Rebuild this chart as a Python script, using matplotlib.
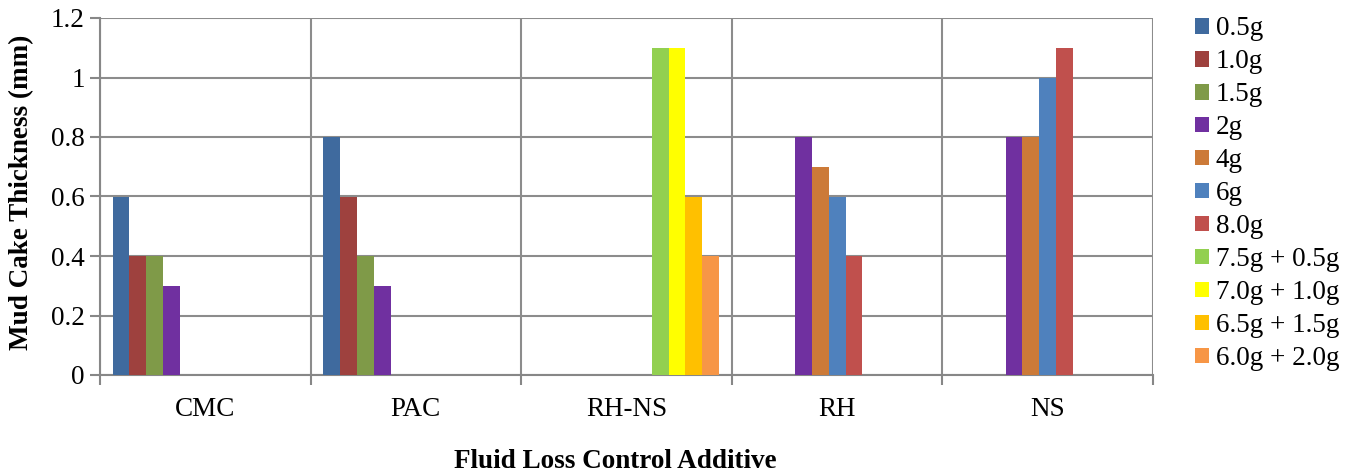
import numpy as np
import matplotlib
matplotlib.use("Agg")
import matplotlib.pyplot as plt

categories = ["CMC", "PAC", "RH-NS", "RH", "NS"]
series_names = ["0.5g", "1.0g", "1.5g", "2g", "4g", "6g", "8.0g",
                "7.5g + 0.5g", "7.0g + 1.0g", "6.5g + 1.5g", "6.0g + 2.0g"]
s_05g = [0.6, 0.8, 0, 0, 0]
s_10g = [0.4, 0.6, 0, 0, 0]
s_15g = [0.4, 0.4, 0, 0, 0]
s_2g = [0.3, 0.3, 0, 0.8, 0.8]
s_4g = [0, 0, 0, 0.7, 0.8]
s_6g = [0, 0, 0, 0.6, 1.0]
s_8g = [0, 0, 0, 0.4, 1.1]
s_75_05 = [0, 0, 1.1, 0, 0]
s_70_10 = [0, 0, 1.1, 0, 0]
s_65_15 = [0, 0, 0.6, 0, 0]
s_60_20 = [0, 0, 0.4, 0, 0]
series_values = [s_05g, s_10g, s_15g, s_2g, s_4g, s_6g, s_8g,
                 s_75_05, s_70_10, s_65_15, s_60_20]
colors = ["#3F6A9E", "#9E413E", "#7F9A48", "#7030A0", "#CC7A38", "#4F81BD",
          "#C0504D", "#92D050", "#FFFF00", "#FFC000", "#F79646"]

plt.rcParams['font.family'] = ['Liberation Serif', 'DejaVu Serif']
FS = 19.5

fig = plt.figure(figsize=(13.51, 4.74), dpi=100)
ax = fig.add_axes([100/1351, 1-375/474, (1153-100)/1351, (375-18)/474])

w = 0.08
margin = 0.06
x = np.arange(len(categories))
for j, (name, vals, c) in enumerate(zip(series_names, series_values, colors)):
    ax.bar(x + margin + j*w, vals, width=w, align='edge', color=c,
           label=name, zorder=3, linewidth=0)

ax.set_xlim(0, len(categories))
ax.set_ylim(0, 1.2)
ax.set_yticks(np.arange(0, 1.21, 0.2))
ax.set_yticklabels(["0", "0.2", "0.4", "0.6", "0.8", "1", "1.2"], fontsize=FS)
ax.set_xticks(np.arange(0, len(categories)+1))
ax.set_xticklabels([])
ax.set_xticks(x + 0.5, minor=True)
ax.set_xticklabels(categories, minor=True, fontsize=FS)
ax.tick_params(axis='x', which='minor', length=0, pad=16)
ax.tick_params(axis='x', which='major', length=7, width=1.5, color='#878787', direction='out')
ax.tick_params(axis='y', length=7, width=1.5, color='#878787', direction='out', pad=4)

ax.grid(True, which='major', axis='both', color='#8C8C8C', linewidth=1.5, zorder=0)
for s in ['top', 'right']:
    ax.spines[s].set_visible(False)
for s in ['left', 'bottom']:
    ax.spines[s].set_color('#878787')
    ax.spines[s].set_linewidth(1.5)

fig.text(22/1351, 1-192/474, "Mud Cake Thickness (mm)", fontsize=FS,
         fontweight='bold', ha='center', va='center', rotation=90)
fig.text(615/1351, 1-462/474, "Fluid Loss Control Additive", fontsize=FS,
         fontweight='bold', ha='center', va='center')

leg = ax.legend(loc='upper left', bbox_to_anchor=(1190/1351, 1-11/474),
                bbox_transform=fig.transFigure, frameon=False, fontsize=FS,
                handlelength=0.5, handleheight=0.5, handletextpad=0.25,
                labelspacing=0.295, borderaxespad=0, borderpad=0.2)

fig.savefig("out.png", dpi=100)
